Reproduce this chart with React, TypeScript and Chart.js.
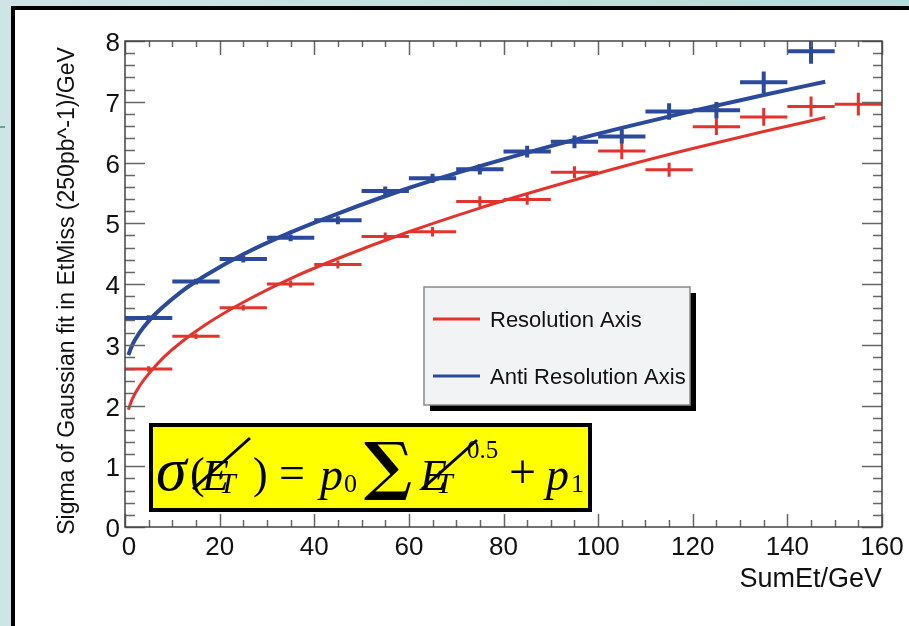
import React, { useEffect, useRef } from "react";
import { Chart, registerables } from "chart.js";

Chart.register(...registerables);

// ---- data ----
const xTicks = [0, 20, 40, 60, 80, 100, 120, 140, 160];
const yTicks = [0, 1, 2, 3, 4, 5, 6, 7, 8];
const binHalfWidth = 5;

const redX = [5, 15, 25, 35, 45, 55, 65, 75, 85, 95, 105, 115, 125, 135, 145, 155];
const redY = [2.6, 3.14, 3.61, 4.0, 4.32, 4.78, 4.86, 5.36, 5.39, 5.84, 6.19, 5.88, 6.59, 6.75, 6.92, 6.96];
const redErr = [0.03, 0.03, 0.03, 0.04, 0.05, 0.05, 0.06, 0.07, 0.07, 0.08, 0.12, 0.1, 0.12, 0.13, 0.15, 0.17];

const blueX = [5, 15, 25, 35, 45, 55, 65, 75, 85, 95, 105, 115, 125, 135, 145];
const blueY = [3.44, 4.04, 4.41, 4.76, 5.05, 5.53, 5.74, 5.89, 6.18, 6.34, 6.43, 6.84, 6.86, 7.32, 7.83];
const blueErr = [0.03, 0.03, 0.04, 0.04, 0.05, 0.06, 0.06, 0.07, 0.08, 0.09, 0.1, 0.12, 0.12, 0.16, 0.19];

const fitX = [0.7, 1.5, 3, 5, 8, 12, 17, 25, 35, 45, 60, 75, 90, 105, 120, 135, 148];
const redFit = [1.93, 2.1, 2.31, 2.52, 2.78, 3.05, 3.33, 3.7, 4.09, 4.42, 4.86, 5.25, 5.6, 5.93, 6.23, 6.51, 6.74];
const blueFit = [2.83, 2.99, 3.19, 3.39, 3.62, 3.88, 4.14, 4.49, 4.85, 5.16, 5.58, 5.94, 6.27, 6.57, 6.85, 7.11, 7.33];

const seriesLabels = ["Resolution Axis", "Anti Resolution Axis"];
const xTitle = "SumEt/GeV";
const yTitle = "Sigma of Gaussian fit in EtMiss (250pb^-1)/GeV";

const RED = "#e2332c";
const BLUE = "#2b4a9b";
const SANS = '"Liberation Sans", Arial, sans-serif';
const SERIF = '"Liberation Serif", "Times New Roman", serif';

const toPts = (xs: number[], ys: number[]) => xs.map((x, i) => ({ x, y: ys[i] }));

const errorBarPlugin = {
  id: "errorBars",
  afterDatasetsDraw(chart: any) {
    const { ctx, chartArea, scales } = chart;
    const xs = scales.x;
    const ys = scales.y;
    ctx.save();
    ctx.beginPath();
    ctx.rect(chartArea.left, chartArea.top, chartArea.right - chartArea.left, chartArea.bottom - chartArea.top);
    ctx.clip();
    chart.data.datasets.forEach((ds: any) => {
      if (!ds.errY) return;
      ctx.strokeStyle = ds.barColor;
      ctx.lineWidth = ds.barWidth;
      ctx.lineCap = "butt";
      ds.data.forEach((p: any, i: number) => {
        const px = xs.getPixelForValue(p.x);
        const py = ys.getPixelForValue(p.y);
        ctx.beginPath();
        ctx.moveTo(xs.getPixelForValue(p.x - binHalfWidth), py);
        ctx.lineTo(xs.getPixelForValue(p.x + binHalfWidth), py);
        ctx.moveTo(px, ys.getPixelForValue(p.y - ds.errY[i]) + 1);
        ctx.lineTo(px, ys.getPixelForValue(p.y + ds.errY[i]) - 1);
        ctx.stroke();
      });
    });
    ctx.restore();
  },
};

const decorPlugin = {
  id: "decor",
  beforeDraw(chart: any) {
    const { ctx, width, height } = chart;
    ctx.save();
    const g = ctx.createLinearGradient(0, 0, width, 0);
    g.addColorStop(0, "#cfe4e4");
    g.addColorStop(1, "#b6d9d9");
    ctx.fillStyle = g;
    ctx.fillRect(0, 0, width, height);
    ctx.fillStyle = "#000";
    ctx.fillRect(11, 6, width, height);
    ctx.fillStyle = "#fff";
    ctx.fillRect(15, 10, width, height);
    // small dash at left edge
    ctx.strokeStyle = "#4a8a8a";
    ctx.lineWidth = 1.5;
    ctx.beginPath();
    ctx.moveTo(0, 127);
    ctx.lineTo(5, 127);
    ctx.stroke();
    ctx.restore();
  },
  afterDraw(chart: any) {
    const { ctx, chartArea, scales } = chart;
    const xs = scales.x;
    const ys = scales.y;
    const L = chartArea.left, R = chartArea.right, T = chartArea.top, B = chartArea.bottom;
    ctx.save();
    // ticks
    ctx.strokeStyle = "#666";
    ctx.lineWidth = 1.5;
    ctx.beginPath();
    for (let v = 0; v <= 160; v += 5) {
      const px = Math.round(xs.getPixelForValue(v)) + 0.5;
      const major = v % 20 === 0;
      ctx.moveTo(px, B);
      ctx.lineTo(px, B - (major ? 13 : 7));
      ctx.moveTo(px, T);
      ctx.lineTo(px, T + (major ? 14 : 6));
    }
    for (let k = 0; k <= 40; k++) {
      const v = k * 0.2;
      const py = Math.round(ys.getPixelForValue(v)) + 0.5;
      const major = k % 5 === 0;
      ctx.moveTo(L, py);
      ctx.lineTo(L + (major ? 20 : 10), py);
      ctx.moveTo(R, py);
      ctx.lineTo(R - (major ? 20 : 9), py);
    }
    ctx.stroke();
    // frame
    ctx.strokeStyle = "#444";
    ctx.lineWidth = 1.5;
    ctx.strokeRect(L, T, R - L, B - T);

    // tick labels
    ctx.fillStyle = "#111";
    ctx.font = `26px ${SANS}`;
    ctx.textAlign = "center";
    ctx.textBaseline = "middle";
    xTicks.forEach((v) => {
      const px = xs.getPixelForValue(v);
      ctx.fillText(String(v), v === 0 ? px + 4 : px, B + 21);
    });
    ctx.textAlign = "right";
    yTicks.forEach((v) => {
      ctx.fillText(String(v), L - 5, ys.getPixelForValue(v) + 3);
    });
    // axis titles
    ctx.font = `27px ${SANS}`;
    ctx.textAlign = "right";
    ctx.fillText(xTitle, R, B + 53);
    ctx.save();
    ctx.translate(68, 291);
    ctx.rotate(-Math.PI / 2);
    ctx.textAlign = "center";
    ctx.font = `23px ${SANS}`;
    ctx.fillText(yTitle, 0, 0);
    ctx.restore();

    // legend
    const lx = 424, ly = 287, lw = 266, lh = 118;
    ctx.fillStyle = "#000";
    ctx.fillRect(lx + 6, ly + 6, lw, lh);
    ctx.fillStyle = "#f2f3f5";
    ctx.fillRect(lx, ly, lw, lh);
    ctx.strokeStyle = "#8a8a8a";
    ctx.lineWidth = 1.5;
    ctx.strokeRect(lx, ly, lw, lh);
    const entries = [
      { label: chart.data.datasets[0].label, color: RED, y: 319 },
      { label: chart.data.datasets[2].label, color: BLUE, y: 376 },
    ];
    entries.forEach((e) => {
      ctx.strokeStyle = e.color;
      ctx.lineWidth = 3;
      ctx.beginPath();
      ctx.moveTo(433, e.y);
      ctx.lineTo(480, e.y);
      ctx.stroke();
      ctx.fillStyle = "#111";
      ctx.font = `22px ${SANS}`;
      ctx.textAlign = "left";
      ctx.textBaseline = "middle";
      ctx.fillText(e.label, 490, e.y + 2);
    });

    // formula box
    ctx.fillStyle = "#000";
    ctx.fillRect(149, 423, 443, 89);
    ctx.fillStyle = "#ffff00";
    ctx.fillRect(153, 427, 435, 81);
    ctx.fillStyle = "#000";
    ctx.textAlign = "left";
    ctx.textBaseline = "alphabetic";
    const base = 490;
    const put = (s: string, x: number, y: number, font: string) => {
      ctx.font = font;
      ctx.fillText(s, x, y);
    };
    put("σ", 156, base, `italic 62px ${SERIF}`);
    put("(", 190, base - 2, `44px ${SERIF}`);
    put("E", 202, base, `italic 44px ${SERIF}`);
    put("T", 219, base + 3, `italic 30px ${SERIF}`);
    put(")", 253, base - 2, `44px ${SERIF}`);
    put("=", 279, base - 2, `46px ${SERIF}`);
    put("p", 320, base, `italic 46px ${SERIF}`);
    put("0", 344, base + 2, `26px ${SERIF}`);
    put("∑", 364, base - 2, `bold 64px "DejaVu Serif", serif`);
    put("E", 420, base, `italic 44px ${SERIF}`);
    put("T", 436, base + 3, `italic 30px ${SERIF}`);
    put("0.5", 467, 458, `25px ${SERIF}`);
    put("+", 509, base - 2, `48px ${SERIF}`);
    put("p", 546, base, `italic 46px ${SERIF}`);
    put("1", 571, base + 2, `26px ${SERIF}`);
    ctx.strokeStyle = "#000";
    ctx.lineWidth = 3;
    ctx.beginPath();
    ctx.moveTo(193, 489);
    ctx.lineTo(250, 438);
    ctx.moveTo(422, 489);
    ctx.lineTo(477, 440);
    ctx.stroke();
    ctx.restore();
  },
};

export default function App() {
  const ref = useRef<HTMLCanvasElement | null>(null);
  useEffect(() => {
    if (!ref.current) return;
    const chart = new Chart(ref.current, {
      type: "scatter",
      data: {
        datasets: [
          {
            label: seriesLabels[0],
            data: toPts(redX, redY),
            pointRadius: 0,
            showLine: false,
            errY: redErr,
            barColor: RED,
            barWidth: 3,
          } as any,
          {
            label: seriesLabels[0] + " fit",
            data: toPts(fitX, redFit),
            showLine: true,
            borderColor: RED,
            borderWidth: 3,
            pointRadius: 0,
            tension: 0.4,
            cubicInterpolationMode: "monotone",
          } as any,
          {
            label: seriesLabels[1],
            data: toPts(blueX, blueY),
            pointRadius: 0,
            showLine: false,
            errY: blueErr,
            barColor: BLUE,
            barWidth: 4,
          } as any,
          {
            label: seriesLabels[1] + " fit",
            data: toPts(fitX, blueFit),
            showLine: true,
            borderColor: BLUE,
            borderWidth: 4,
            pointRadius: 0,
            tension: 0.4,
            cubicInterpolationMode: "monotone",
          } as any,
        ],
      },
      options: {
        animation: false,
        responsive: false,
        devicePixelRatio: 1,
        layout: { padding: { left: 125, right: 27, top: 41, bottom: 99 } },
        plugins: { legend: { display: false }, tooltip: { enabled: false } },
        scales: {
          x: { type: "linear", min: 0, max: 160, display: false },
          y: { type: "linear", min: 0, max: 8, display: false },
        },
      },
      plugins: [decorPlugin, errorBarPlugin],
    });
    return () => chart.destroy();
  }, []);
  return (
    <div style={{ position: "fixed", left: 0, top: 0, width: 909, height: 626 }}>
      <canvas ref={ref} width={909} height={626} style={{ display: "block" }} />
    </div>
  );
}
